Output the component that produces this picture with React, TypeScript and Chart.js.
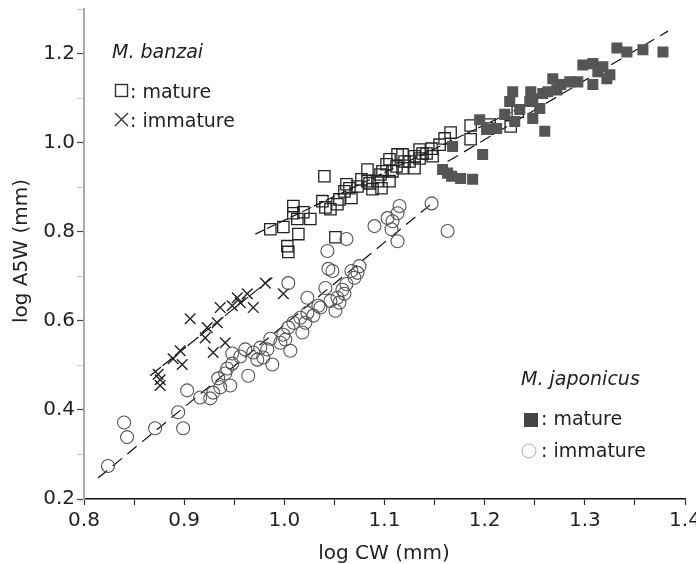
import React, { useEffect, useRef } from "react";
import { Chart, registerables } from "chart.js";

Chart.register(...registerables);

// M. banzai mature (open squares)
const banzaiMature: [number, number][] = [
  [0.986, 0.806], [0.999, 0.811], [1.009, 0.858], [1.009, 0.842], [1.013, 0.829], [1.014, 0.795],
  [1.003, 0.768], [1.004, 0.755], [1.019, 0.844], [1.026, 0.829], [1.038, 0.869], [1.040, 0.925],
  [1.041, 0.855], [1.046, 0.851], [1.053, 0.862], [1.055, 0.873], [1.060, 0.891], [1.062, 0.907],
  [1.065, 0.898], [1.067, 0.876], [1.051, 0.788], [1.073, 0.902], [1.077, 0.918], [1.083, 0.940],
  [1.083, 0.914], [1.085, 0.909], [1.088, 0.896], [1.093, 0.914], [1.096, 0.929], [1.098, 0.936],
  [1.097, 0.898], [1.102, 0.952], [1.105, 0.963], [1.105, 0.914], [1.108, 0.936], [1.112, 0.947],
  [1.113, 0.974], [1.118, 0.974], [1.118, 0.943], [1.120, 0.958], [1.125, 0.958], [1.130, 0.970],
  [1.130, 0.943], [1.135, 0.985], [1.135, 0.965], [1.138, 0.976], [1.142, 0.976], [1.147, 0.987],
  [1.148, 0.970], [1.155, 0.996], [1.160, 1.010], [1.166, 1.023], [1.186, 1.039], [1.186, 1.008],
  [1.203, 1.032], [1.205, 1.041], [1.226, 1.037], [1.233, 1.070],
];

// M. banzai immature (crosses)
const banzaiImmature: [number, number][] = [
  [0.874, 0.480], [0.876, 0.455], [0.876, 0.468], [0.889, 0.515], [0.896, 0.533], [0.898, 0.502],
  [0.906, 0.605], [0.921, 0.562], [0.923, 0.585], [0.929, 0.529], [0.933, 0.596], [0.941, 0.551],
  [0.936, 0.630], [0.953, 0.652], [0.956, 0.641], [0.963, 0.661], [0.969, 0.630], [0.981, 0.685],
  [0.999, 0.661], [0.948, 0.634],
];

// M. japonicus mature (filled squares)
const japonicusMature: [number, number][] = [
  [1.158, 0.940], [1.163, 0.932], [1.167, 0.925], [1.176, 0.920], [1.188, 0.918], [1.168, 0.992],
  [1.198, 0.974], [1.195, 1.052], [1.212, 1.032], [1.202, 1.030], [1.225, 1.093], [1.228, 1.115],
  [1.230, 1.048], [1.220, 1.064], [1.235, 1.075], [1.245, 1.093], [1.246, 1.115], [1.248, 1.055],
  [1.248, 1.099], [1.255, 1.077], [1.260, 1.026], [1.258, 1.111], [1.263, 1.115], [1.268, 1.144],
  [1.272, 1.119], [1.276, 1.131], [1.285, 1.137], [1.293, 1.137], [1.298, 1.175], [1.308, 1.178],
  [1.318, 1.171], [1.325, 1.153], [1.308, 1.131], [1.322, 1.144], [1.313, 1.160], [1.332, 1.213],
  [1.342, 1.204], [1.358, 1.209], [1.378, 1.204],
];

// M. japonicus immature (open circles)
const japonicusImmature: [number, number][] = [
  [0.824, 0.274], [0.840, 0.372], [0.843, 0.339], [0.871, 0.359], [0.894, 0.395], [0.899, 0.359],
  [0.903, 0.444], [0.916, 0.428], [0.926, 0.426], [0.929, 0.439], [0.936, 0.451], [0.934, 0.471],
  [0.941, 0.482], [0.946, 0.455], [0.948, 0.504], [0.948, 0.527], [0.943, 0.493], [0.956, 0.520],
  [0.964, 0.477], [0.961, 0.536], [0.969, 0.529], [0.973, 0.513], [0.976, 0.540], [0.983, 0.536],
  [0.988, 0.502], [0.979, 0.518], [0.999, 0.569], [1.001, 0.558], [1.006, 0.533], [0.996, 0.551],
  [0.986, 0.560], [1.004, 0.585], [1.009, 0.596], [1.016, 0.607], [1.018, 0.574], [1.021, 0.596],
  [1.023, 0.618], [1.034, 0.634], [1.029, 0.612], [1.036, 0.630], [1.041, 0.674], [1.046, 0.645],
  [1.051, 0.623], [1.053, 0.652], [1.055, 0.641], [1.060, 0.661], [1.062, 0.683], [1.058, 0.670],
  [1.004, 0.685], [1.023, 0.652], [1.043, 0.757], [1.044, 0.717], [1.048, 0.712], [1.062, 0.784],
  [1.067, 0.712], [1.070, 0.697], [1.073, 0.708], [1.075, 0.723], [1.090, 0.813], [1.103, 0.831],
  [1.108, 0.824], [1.107, 0.806], [1.113, 0.842], [1.115, 0.858], [1.113, 0.779], [1.147, 0.864],
  [1.163, 0.802],
];

// Regression lines (endpoints)
const fitBanzaiMature: [number, number][] = [[0.971, 0.795], [1.236, 1.079]];
const fitBanzaiImmature: [number, number][] = [[0.866, 0.477], [0.988, 0.697]];
const fitJaponicusMature: [number, number][] = [[1.163, 0.958], [1.383, 1.251]];
const fitJaponicusImmature: [number, number][] = [[0.814, 0.247], [1.150, 0.869]];

const xRange = [0.8, 1.4];
const yRange = [0.2, 1.3];
const xTitle = "log CW (mm)";
const yTitle = "log A5W (mm)";

const FONT = '"DejaVu Sans", Verdana, sans-serif';

const pts = (a: [number, number][]) => a.map(([x, y]) => ({ x, y }));

const overlayPlugin = {
  id: "overlay",
  afterDraw(chart: any) {
    const ctx = chart.ctx as CanvasRenderingContext2D;
    ctx.save();
    ctx.fillStyle = "#222";
    ctx.textAlign = "left";
    ctx.textBaseline = "alphabetic";
    // M. banzai legend
    ctx.font = `italic 19px ${FONT}`;
    ctx.fillText("M. banzai", 112, 58);
    ctx.font = `19px ${FONT}`;
    ctx.strokeStyle = "#333";
    ctx.lineWidth = 1.4;
    ctx.strokeRect(115.5, 84.5, 12, 12);
    ctx.fillText(": mature", 130, 98);
    ctx.beginPath();
    ctx.moveTo(115, 113);
    ctx.lineTo(128, 126);
    ctx.moveTo(128, 113);
    ctx.lineTo(115, 126);
    ctx.stroke();
    ctx.fillText(": immature", 130, 127);

    // M. japonicus legend
    ctx.font = `italic 19px ${FONT}`;
    ctx.fillText("M. japonicus", 521, 385);
    ctx.font = `19px ${FONT}`;
    ctx.fillStyle = "#444";
    ctx.fillRect(524, 413, 14, 14);
    ctx.fillStyle = "#222";
    ctx.fillText(": mature", 541, 425);
    ctx.strokeStyle = "#aaa";
    ctx.lineWidth = 1;
    ctx.beginPath();
    ctx.arc(529, 451, 7, 0, Math.PI * 2);
    ctx.stroke();
    ctx.fillText(": immature", 541, 457);

    // axis titles
    ctx.font = `20px ${FONT}`;
    ctx.textAlign = "center";
    ctx.fillText(xTitle, 384, 559);
    ctx.translate(27, 251);
    ctx.rotate(-Math.PI / 2);
    ctx.fillText(yTitle, 0, 0);
    ctx.restore();
  },
};

export default function App() {
  const ref = useRef<HTMLCanvasElement | null>(null);

  useEffect(() => {
    if (!ref.current) return;
    const lineDs = (data: [number, number][], dash: number[]) => ({
      type: "line" as const,
      data: pts(data),
      borderColor: "#111",
      borderWidth: 1.2,
      borderDash: dash,
      pointRadius: 0,
      fill: false,
      showLine: true,
    });
    const chart = new Chart(ref.current, {
      type: "scatter",
      data: {
        datasets: [
          {
            label: "M. japonicus immature",
            data: pts(japonicusImmature),
            pointStyle: "circle",
            pointRadius: 6.5,
            borderColor: "#555",
            backgroundColor: "rgba(0,0,0,0)",
            borderWidth: 1.1,
          },
          {
            label: "M. japonicus mature",
            data: pts(japonicusMature),
            pointStyle: "rect",
            pointRadius: 7.8,
            borderColor: "#555",
            backgroundColor: "#555",
            borderWidth: 0,
          },
          {
            label: "M. banzai mature",
            data: pts(banzaiMature),
            pointStyle: "rect",
            pointRadius: 8,
            borderColor: "#222",
            backgroundColor: "rgba(0,0,0,0)",
            borderWidth: 1.3,
          },
          {
            label: "M. banzai immature",
            data: pts(banzaiImmature),
            pointStyle: "crossRot",
            pointRadius: 7.5,
            borderColor: "#222",
            backgroundColor: "#222",
            borderWidth: 1.4,
          },
          lineDs(fitJaponicusImmature, [12, 7]),
          lineDs(fitJaponicusMature, [12, 7]),
          lineDs(fitBanzaiMature, [10, 3]),
          lineDs(fitBanzaiImmature, [14, 2]),
        ] as any,
      },
      options: {
        animation: false,
        responsive: false,
        events: [],
        layout: { padding: { top: 7, right: 11, left: 0, bottom: 0 } },
        plugins: { legend: { display: false }, tooltip: { enabled: false } },
        scales: {
          x: {
            type: "linear",
            min: xRange[0],
            max: xRange[1],
            afterFit(scale: any) {
              scale.height = 65;
              scale.paddingLeft = 0;
              scale.paddingRight = 0;
            },
            border: { color: "#111", width: 1.5 },
            grid: {
              drawOnChartArea: false,
              drawTicks: true,
              tickLength: 6,
              tickWidth: 1.2,
              tickColor: "#333",
            },
            ticks: {
              stepSize: 0.05,
              autoSkip: false,
              maxRotation: 0,
              padding: 4,
              color: "#222",
              font: { family: FONT, size: 20 },
              callback: (v: any) => {
                const n = Math.round(Number(v) * 20);
                return n % 2 === 0 ? (n / 20).toFixed(1) : "";
              },
            },
          },
          y: {
            type: "linear",
            min: yRange[0],
            max: yRange[1],
            afterFit(scale: any) {
              scale.width = 84;
              scale.paddingTop = 0;
              scale.paddingBottom = 0;
            },
            border: { color: "#aaa", width: 2 },
            grid: {
              drawOnChartArea: false,
              drawTicks: true,
              tickLength: 7,
              tickWidth: 1.2,
              tickColor: (c: any) => {
                const n = Math.round(Number(c.tick?.value) * 10);
                return n % 2 === 0 ? "#444" : "#ccc";
              },
            },
            ticks: {
              stepSize: 0.1,
              autoSkip: false,
              padding: 2,
              color: "#222",
              font: { family: FONT, size: 20 },
              callback: (v: any) => {
                const n = Math.round(Number(v) * 10);
                return n % 2 === 0 && n <= 12 ? (n / 10).toFixed(1) : "";
              },
            },
          },
        },
      } as any,
      plugins: [overlayPlugin],
    });
    return () => chart.destroy();
  }, []);

  return (
    <canvas
      ref={ref}
      width={696}
      height={564}
      style={{ position: "absolute", left: 0, top: 0, display: "block", background: "#fff" }}
    />
  );
}
